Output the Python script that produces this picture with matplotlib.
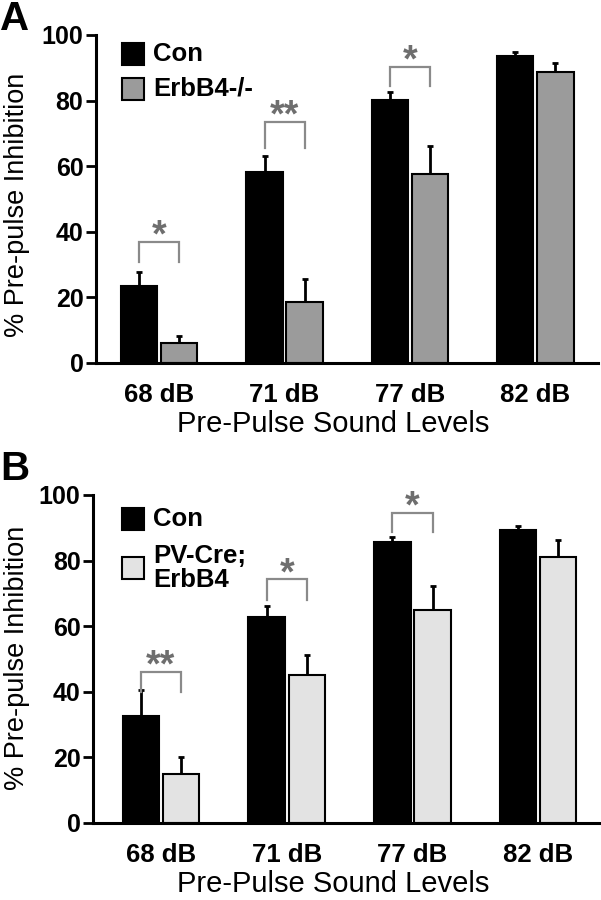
import matplotlib
matplotlib.use("Agg")
import matplotlib.pyplot as plt
from matplotlib.patches import Rectangle
import numpy as np

plt.rcParams['font.family'] = ['Liberation Sans', 'DejaVu Sans']

categories = ["68 dB", "71 dB", "77 dB", "82 dB"]

# Panel A
a_con = [23.5, 58.2, 80.2, 93.6]
a_con_err = [4.3, 4.9, 2.4, 1.1]
a_ko = [6.1, 18.6, 57.6, 88.6]
a_ko_err = [2.1, 7.0, 8.6, 2.8]
a_sig = ["*", "**", "*", ""]
a_bracket_top = [36.9, 73.5, 90.3]
a_bracket_leg = [30.8, 65.5, 84.5]

# Panel B
b_con = [32.5, 62.7, 85.6, 89.3]
b_con_err = [8.0, 3.6, 1.7, 1.3]
b_pv = [14.9, 45.1, 65.0, 81.2]
b_pv_err = [5.1, 6.0, 7.3, 5.2]
b_sig = ["**", "*", "*", ""]
b_bracket_top = [46.0, 74.3, 94.6]
b_bracket_leg = [39.9, 68.0, 88.8]

yticks = [0, 20, 40, 60, 80, 100]

W, H = 601, 900
fig = plt.figure(figsize=(W / 100, H / 100), dpi=100)

BW = 0.29
OFF = 0.16
BRCOL = "#8a8a8a"
STARCOL = "#6e6e6e"


def panel(ax_rect, xlim_left, con, con_err, other, other_err, other_col,
          sig, btop, bleg, legend_labels, label_letter, letter_base,
          tick_y, xlabel_y, ylabel_y, leg_y):
    ax = fig.add_axes(ax_rect)
    x = np.arange(len(categories))
    ax.bar(x - OFF, con, BW, color="black", edgecolor="black", linewidth=1.5, zorder=2)
    ax.bar(x + OFF, other, BW, color=other_col, edgecolor="black", linewidth=1.5, zorder=2)
    ax.errorbar(x - OFF, con, yerr=[np.zeros(4), con_err], fmt="none", ecolor="black",
                elinewidth=2, capsize=2.5, capthick=2, zorder=1)
    ax.errorbar(x + OFF, other, yerr=[np.zeros(4), other_err], fmt="none", ecolor="black",
                elinewidth=2, capsize=2.5, capthick=2, zorder=1)
    for i, s in enumerate(sig):
        if not s:
            continue
        x0, x1 = x[i] - OFF, x[i] + OFF
        ax.plot([x0, x0, x1, x1], [bleg[i], btop[i], btop[i], bleg[i]], color=BRCOL,
                lw=1.6, solid_joinstyle="miter", zorder=3, clip_on=False)
        ax.annotate(s, (x[i], btop[i]), xytext=(0, -3.5), textcoords="offset points",
                    ha="center", va="baseline", fontsize=27, fontweight="bold",
                    color=STARCOL, annotation_clip=False)
    ax.set_xlim(xlim_left, 3.5)
    ax.set_ylim(0, 100)
    ax.set_yticks(yticks)
    ax.set_yticklabels([str(t) for t in yticks], fontsize=18, fontweight="bold")
    ax.set_xticks(x)
    ax.set_xticklabels([])
    ax.tick_params(axis="x", length=0)
    ax.tick_params(axis="y", length=7, width=2, direction="out", pad=2)
    for sp in ["top", "right"]:
        ax.spines[sp].set_visible(False)
    for sp in ["left", "bottom"]:
        ax.spines[sp].set_linewidth(2.2)
    for i, c in enumerate(categories):
        xd = ax.transData.transform((x[i], 0))[0]
        fig.text(xd / W, 1 - tick_y / H, c, ha="center", va="center",
                 fontsize=18.5, fontweight="bold")
    fig.text(333 / W, 1 - xlabel_y / H, "Pre-Pulse Sound Levels", ha="center",
             va="center", fontsize=21)
    fig.text(17 / W, 1 - ylabel_y / H, "% Pre-pulse Inhibition", ha="center",
             va="center", fontsize=19.5, rotation=90)
    fig.text(0.0, 1 - letter_base / H, label_letter, ha="left", va="baseline",
             fontsize=29, fontweight="bold")
    sq = 22
    for j, (lab, col, ly) in enumerate(zip(legend_labels, ["black", other_col], leg_y)):
        fig.patches.append(Rectangle((122 / W, 1 - (ly + sq / 2) / H), sq / W, sq / H,
                                     facecolor=col, edgecolor="black", linewidth=1.5,
                                     transform=fig.transFigure, figure=fig))
        fig.text(153 / W, 1 - ly / H, lab, ha="left", va="center", fontsize=18.5,
                 fontweight="bold", linespacing=0.95)
    return ax


panel([96 / W, 1 - 363 / H, (598 - 96) / W, 328 / H], -0.504,
      a_con, a_con_err, a_ko, a_ko_err, "#9b9b9b", a_sig, a_bracket_top, a_bracket_leg,
      ["Con", "ErbB4-/-"], "A", 30, 395, 424, 205, [54, 89])

panel([93 / W, 1 - 823 / H, (601 - 93) / W, 328 / H], -0.54,
      b_con, b_con_err, b_pv, b_pv_err, "#e3e3e3", b_sig, b_bracket_top, b_bracket_leg,
      ["Con", "PV-Cre;\nErbB4"], "B", 480, 855, 884, 658, [519, 568])

fig.savefig("out.png", dpi=100)
